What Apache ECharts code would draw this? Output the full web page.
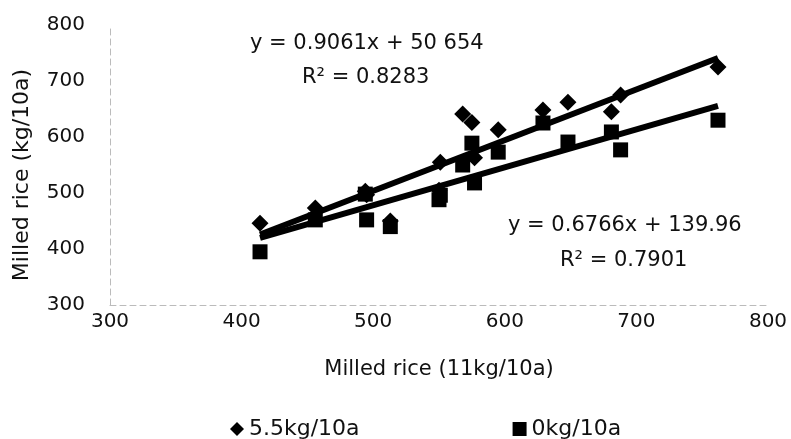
<!DOCTYPE html>
<html>
<head>
<meta charset="utf-8">
<script src="https://cdn.jsdelivr.net/npm/echarts@6/dist/echarts.min.js"></script>
<style>
  html, body { margin: 0; padding: 0; background: #fff; }
  #chart { width: 791px; height: 439px; }
</style>
</head>
<body>
<div id="chart"></div>
<script>
// Milled rice at 11kg/10a (x) vs 5.5kg/10a and 0kg/10a (y)
const xHigh = [414, 456, 494, 495, 513, 551, 550, 568, 575, 577, 595, 629, 648, 681, 688, 762];
const yMid = [446, 473, 503, 497, 450, 555, 505, 641, 626, 563, 613, 648, 662, 645, 675, 725];
const yZero = [395, 452, 498, 452, 440, 496, 488, 550, 589, 518, 573, 625, 591, 609, 577, 630];

const seriesNames = ['5.5kg/10a', '0kg/10a'];
const fitMid = { slope: 0.9061, icpt: 50.654, eq: 'y = 0.9061x + 50 654', r2: 'R² = 0.8283' };
const fitZero = { slope: 0.6766, icpt: 139.96, eq: 'y = 0.6766x + 139.96', r2: 'R² = 0.7901' };

const font = 'DejaVu Sans, sans-serif';
const ink = '#111';
const xMinData = Math.min(...xHigh);
const xMaxData = Math.max(...xHigh);

const pairs = (ys) => xHigh.map((x, i) => [x, ys[i]]);
// trendline drawn across the x range of the data, from the fitted equation
const trend = (f) => [xMinData, xMaxData].map(x => [x, f.slope * x + f.icpt]);

const chart = echarts.init(document.getElementById('chart'));

const axisCommon = {
  type: 'value',
  min: 300,
  max: 800,
  interval: 100,
  splitLine: { show: false },
  axisTick: { show: false },
  axisLine: { show: true, lineStyle: { color: '#bbb', type: [6, 4], width: 1 } },
  axisLabel: { color: ink, fontSize: 20, fontFamily: font }
};

const textEl = (text, left, top) => ({
  type: 'text', left, top,
  style: { text, font: '21px ' + font, fill: ink }
});

chart.setOption({
  backgroundColor: '#fff',
  animation: false,
  grid: { left: 110, right: 23, top: 25, bottom: 134 },
  xAxis: {
    ...axisCommon,
    name: 'Milled rice (11kg/10a)',
    nameLocation: 'middle',
    nameGap: 54,
    nameTextStyle: { color: ink, fontSize: 21, fontFamily: font },
    axisLabel: { ...axisCommon.axisLabel, margin: 7 }
  },
  yAxis: {
    ...axisCommon,
    axisLabel: { ...axisCommon.axisLabel, margin: 25 }
  },
  legend: {
    left: 225,
    top: 413,
    itemGap: 153,
    itemWidth: 14,
    itemHeight: 14,
    textStyle: { color: ink, fontSize: 22, fontFamily: font },
    data: [
      { name: seriesNames[0], icon: 'diamond' },
      { name: seriesNames[1], icon: 'rect' }
    ]
  },
  graphic: [
    {
      type: 'text',
      x: 22, y: 175,
      rotation: Math.PI / 2,
      style: {
        text: 'Milled rice (kg/10a)', font: '22px ' + font, fill: ink,
        align: 'center', verticalAlign: 'middle'
      }
    },
    textEl(fitMid.eq, 250, 33),
    textEl(fitMid.r2, 302, 67),
    textEl(fitZero.eq, 508, 215),
    textEl(fitZero.r2, 560, 250)
  ],
  series: [
    {
      name: seriesNames[0],
      type: 'scatter',
      symbol: 'diamond',
      symbolSize: [17, 17],
      itemStyle: { color: '#000', opacity: 1 },
      data: pairs(yMid),
      z: 3
    },
    {
      name: seriesNames[1],
      type: 'scatter',
      symbol: 'rect',
      symbolSize: 15,
      itemStyle: { color: '#000', opacity: 1 },
      data: pairs(yZero),
      z: 3
    },
    {
      type: 'line',
      data: trend(fitMid),
      symbol: 'none',
      lineStyle: { color: '#000', width: 6 },
      z: 4
    },
    {
      type: 'line',
      data: trend(fitZero),
      symbol: 'none',
      lineStyle: { color: '#000', width: 6 },
      z: 4
    }
  ]
});
</script>
</body>
</html>
